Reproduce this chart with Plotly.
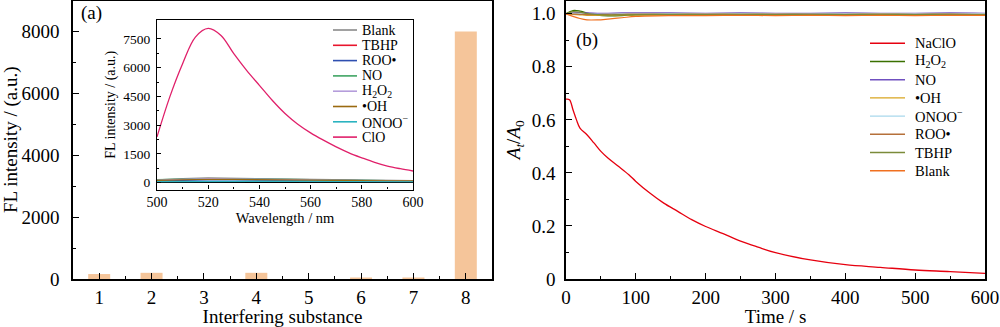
import plotly.graph_objects as go

# ---------------- data ----------------
# Panel (a) bars
substance_idx = [1, 2, 3, 4, 5, 6, 7, 8]
fl_intensity = [160, 200, 0, 200, 0, 40, 30, 8000]

# Panel (a) inset spectra
wl_clo = [500, 505, 510, 515, 520, 525, 530, 535, 540, 545, 550,
          555, 560, 565, 570, 575, 580, 585, 590, 595, 600]
clo_spec = [2390, 4480, 6210, 7600, 8050, 7680, 6730, 5860, 5080, 4300, 3610,
            3050, 2600, 2220, 1870, 1560, 1300, 1060, 870, 730, 610]
wl_low = [500, 510, 520, 530, 540, 550, 560, 570, 580, 590, 600]
blank_spec = [150, 220, 250, 230, 200, 170, 150, 140, 130, 120, 110]
tbhp_spec = [130, 180, 200, 190, 170, 150, 130, 120, 110, 100, 100]
roo_spec = [100, 130, 150, 140, 130, 120, 110, 100, 90, 90, 80]
no_spec = [160, 200, 220, 210, 190, 160, 140, 130, 120, 110, 100]
h2o2_spec = [140, 190, 210, 200, 180, 160, 140, 120, 110, 100, 100]
oh_spec = [120, 160, 180, 170, 150, 140, 120, 110, 100, 90, 90]
onoo_spec = [60, 70, 80, 80, 70, 70, 60, 60, 60, 50, 50]

# Panel (b) kinetics
t_naclo = [0, 5, 10, 15, 20, 30, 40, 50, 60, 75, 90, 100, 120, 140, 160, 180,
           200, 225, 250, 275, 300, 350, 400, 450, 500, 550, 600]
naclo = [0.678, 0.676, 0.638, 0.600, 0.569, 0.544, 0.513, 0.481, 0.456, 0.425,
         0.393, 0.368, 0.324, 0.286, 0.255, 0.224, 0.198, 0.171, 0.143, 0.120,
         0.099, 0.072, 0.054, 0.044, 0.034, 0.028, 0.021]
t_other = [0, 10, 20, 30, 45, 60, 80, 100, 150, 200, 250, 300, 350, 400, 450, 500, 550, 600]
h2o2_k = [1.0, 1.012, 1.010, 1.003, 0.995, 0.992, 0.993, 0.996, 0.997, 0.998,
          0.996, 0.997, 0.998, 0.997, 0.998, 0.997, 0.998, 0.997]
no_k = [1.0, 1.003, 1.004, 1.003, 1.002, 1.002, 1.003, 1.003, 1.003, 1.002,
        1.003, 1.002, 1.002, 1.003, 1.002, 1.002, 1.003, 1.002]
oh_k = [1.0, 0.998, 0.996, 0.994, 0.994, 0.995, 0.996, 0.996, 0.995, 0.996,
        0.995, 0.996, 0.995, 0.996, 0.995, 0.996, 0.995, 0.996]
onoo_k = [1.0, 1.002, 1.000, 0.999, 0.998, 0.999, 1.000, 1.000, 1.001, 1.000,
          1.001, 1.000, 0.999, 1.000, 1.001, 1.000, 1.000, 1.001]
roo_k = [1.0, 0.999, 0.998, 0.997, 0.997, 0.998, 0.998, 0.999, 0.998, 0.999,
         0.998, 0.999, 0.998, 0.998, 0.999, 0.998, 0.999, 0.998]
tbhp_k = [1.0, 1.008, 1.006, 1.001, 0.997, 0.995, 0.996, 0.997, 0.998, 0.997,
          0.998, 0.997, 0.998, 0.997, 0.998, 0.997, 0.998, 0.997]
blank_k = [1.0, 0.990, 0.982, 0.977, 0.977, 0.980, 0.985, 0.990, 0.993, 0.993,
           0.994, 0.993, 0.994, 0.993, 0.994, 0.993, 0.994, 0.994]

inset_names = ["Blank", "TBHP", "ROO•", "NO", "H<sub>2</sub>O<sub>2</sub>", "•OH",
               "ONOO<sup>−</sup>", "ClO"]
kin_names = ["NaClO", "H<sub>2</sub>O<sub>2</sub>", "NO", "•OH", "ONOO<sup>−</sup>",
             "ROO•", "TBHP", "Blank"]

# ---------------- style ----------------
FONT = "Liberation Serif"
W, H = 1000, 327
inset_colors = ["#8a8a8a", "#e8152d", "#2f4fb0", "#3fa463", "#b59ddb", "#9a6a10",
                "#2bb3c0", "#e0206a"]
kin_colors = ["#e6000f", "#3a7000", "#7050c0", "#d9a520", "#a9d8ec", "#b5703a",
              "#7b8b3a", "#f07020"]

def px_x(p):
    return p / W

def px_y(p):
    return 1 - p / H

fig = go.Figure()

# bars (panel a)
fig.add_trace(go.Bar(x=substance_idx, y=fl_intensity, width=0.42,
                     marker=dict(color="#f5c59a", line=dict(width=0)),
                     xaxis="x", yaxis="y", showlegend=False))

# inset spectra
low_series = [blank_spec, tbhp_spec, roo_spec, no_spec, h2o2_spec, oh_spec, onoo_spec]
for ys, c in zip(low_series, inset_colors[:7]):
    fig.add_trace(go.Scatter(x=wl_low, y=ys, mode="lines", line=dict(color=c, width=1.2),
                             xaxis="x3", yaxis="y3", showlegend=False))
fig.add_trace(go.Scatter(x=wl_clo, y=clo_spec, mode="lines", line_shape="spline",
                         line=dict(color=inset_colors[7], width=1.3),
                         xaxis="x3", yaxis="y3", showlegend=False))

# panel b
other_k = [h2o2_k, no_k, oh_k, onoo_k, roo_k, tbhp_k, blank_k]
for ys, c in zip(other_k, kin_colors[1:]):
    fig.add_trace(go.Scatter(x=t_other, y=ys, mode="lines", line_shape="spline",
                             line=dict(color=c, width=1.2),
                             xaxis="x2", yaxis="y2", showlegend=False))
fig.add_trace(go.Scatter(x=t_naclo, y=naclo, mode="lines", line_shape="spline",
                         line=dict(color=kin_colors[0], width=1.3),
                         xaxis="x2", yaxis="y2", showlegend=False))

axis_common = dict(showgrid=False, zeroline=False, showline=True, linecolor="black",
                   mirror=True, ticks="inside", tickcolor="black", automargin=False,
                   tickfont=dict(family=FONT, size=19, color="black"))

fig.update_layout(
    width=W, height=H, margin=dict(l=0, r=0, t=0, b=0, autoexpand=False),
    paper_bgcolor="white", plot_bgcolor="white",
    font=dict(family=FONT, color="black"),
    showlegend=False,
    xaxis=dict(**axis_common, domain=[px_x(73), px_x(492)], anchor="y",
               range=[0.5, 8.5], tickvals=substance_idx, ticklen=6, linewidth=1.5, tickwidth=1.3,
               minor=dict(tickvals=[1.5, 2.5, 3.5, 4.5, 5.5, 6.5, 7.5], ticklen=3, ticks="inside",
                          tickcolor="black"),
               title=dict(text="Interfering substance", font=dict(family=FONT, size=19),
                          standoff=2)),
    yaxis=dict(**axis_common, domain=[px_y(279), px_y(0.5)], anchor="x",
               range=[0, 9000], tickvals=[0, 2000, 4000, 6000, 8000], ticklen=6, linewidth=1.5,
               tickwidth=1.3, ticklabelstandoff=8,
               minor=dict(tickvals=[1000, 3000, 5000, 7000], ticklen=3, ticks="inside",
                          tickcolor="black"),
               title=dict(text="FL intensity / (a.u.)", font=dict(family=FONT, size=19),
                          standoff=4)),
    xaxis2=dict(**axis_common, domain=[px_x(566), px_x(985)], anchor="y2",
                range=[0, 600], tickvals=[0, 100, 200, 300, 400, 500, 600], ticklen=6,
                linewidth=1.5, tickwidth=1.3,
                minor=dict(tickvals=[50, 150, 250, 350, 450, 550], ticklen=3, ticks="inside",
                           tickcolor="black"),
                title=dict(text="Time / s", font=dict(family=FONT, size=19), standoff=2)),
    yaxis2=dict(**axis_common, domain=[px_y(279), px_y(0.5)], anchor="x2",
                range=[0, 1.05], tickvals=[0, 0.2, 0.4, 0.6, 0.8, 1.0],
                ticktext=["0", "0.2", "0.4", "0.6", "0.8", "1.0"], ticklen=6, linewidth=1.5,
                tickwidth=1.3, ticklabelstandoff=5,
                minor=dict(tickvals=[0.1, 0.3, 0.5, 0.7, 0.9], ticklen=3, ticks="inside",
                           tickcolor="black"),
                title=dict(text="<i>A</i><sub><i>t</i></sub>/<i>A</i><sub>0</sub>",
                           font=dict(family=FONT, size=19), standoff=6)),
    xaxis3=dict(showgrid=False, zeroline=False, showline=True, linecolor="black", mirror=True,
                ticks="inside", tickcolor="black", linewidth=1.2, ticklen=4, automargin=False,
                tickfont=dict(family=FONT, size=14, color="black"),
                domain=[px_x(157), px_x(413)], anchor="y3", range=[500, 600],
                tickvals=[500, 520, 540, 560, 580, 600],
                minor=dict(tickvals=[510, 530, 550, 570, 590], ticklen=2, ticks="inside",
                           tickcolor="black"),
                title=dict(text="Wavelength / nm", font=dict(family=FONT, size=14.5), standoff=1)),
    yaxis3=dict(showgrid=False, showline=True, linecolor="black", mirror=True,
                zeroline=True, zerolinecolor="black", zerolinewidth=1.3, automargin=False,
                ticks="inside", tickcolor="black", linewidth=1.2, ticklen=4,
                tickfont=dict(family=FONT, size=13.5, color="black"), ticklabelstandoff=3,
                domain=[px_y(189.5), px_y(20)], anchor="x3", range=[-355, 8490],
                tickvals=[0, 1500, 3000, 4500, 6000, 7500],
                minor=dict(tickvals=[750, 2250, 3750, 5250, 6750], ticklen=2, ticks="inside",
                           tickcolor="black"),
                title=dict(text="FL intensity / (a.u.)", font=dict(family=FONT, size=14),
                           standoff=4)),
)

annotations = [
    dict(text="(a)", x=px_x(79), y=px_y(13), xanchor="left", yanchor="middle",
         font=dict(family=FONT, size=19, color="black")),
    dict(text="(b)", x=px_x(574), y=px_y(40), xanchor="left", yanchor="middle",
         font=dict(family=FONT, size=19, color="black")),
]
shapes = []

# inset legend (manual)
for i, (name, c) in enumerate(zip(inset_names, inset_colors)):
    yc = 30 + i * 15.3
    shapes.append(dict(type="line", xref="paper", yref="paper", x0=px_x(333), x1=px_x(357),
                       y0=px_y(yc), y1=px_y(yc), line=dict(color=c, width=1.6)))
    annotations.append(dict(text=name, x=px_x(360), y=px_y(yc), xanchor="left", yanchor="middle",
                            font=dict(family=FONT, size=14, color="black")))

# panel b legend (manual)
for i, (name, c) in enumerate(zip(kin_names, kin_colors)):
    yc = 43.3 + i * 18.2
    shapes.append(dict(type="line", xref="paper", yref="paper", x0=px_x(870), x1=px_x(905),
                       y0=px_y(yc), y1=px_y(yc), line=dict(color=c, width=1.4)))
    annotations.append(dict(text=name, x=px_x(913), y=px_y(yc), xanchor="left", yanchor="middle",
                            font=dict(family=FONT, size=14.5, color="black")))

for a in annotations:
    a.update(xref="paper", yref="paper", showarrow=False)

fig.update_layout(annotations=annotations, shapes=shapes)

fig.write_html("out.html")
